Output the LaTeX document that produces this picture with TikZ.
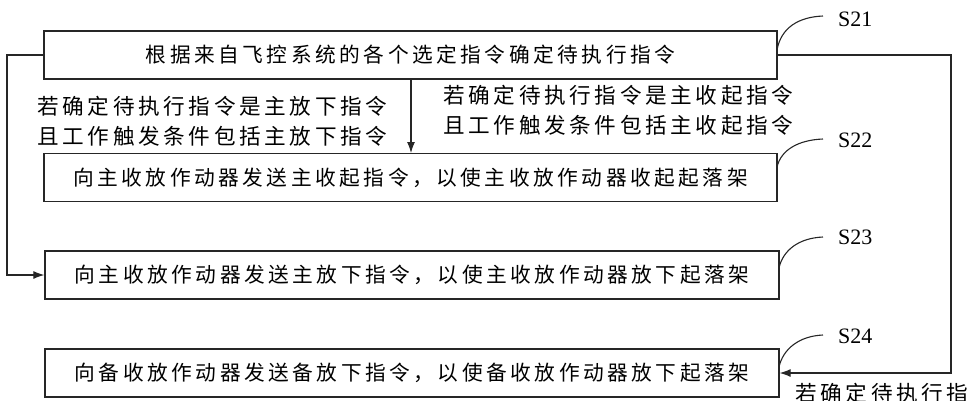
\documentclass[tikz,border=0pt]{standalone}
\usepackage{fontspec}
\newfontfamily\cjk[LetterSpace=17]{Noto Sans CJK SC}
\setmainfont{Liberation Serif}
\usetikzlibrary{arrows.meta}
\tikzset{
  stepbox/.style={draw=black!85, line width=1.3pt, minimum width=733pt, minimum height=48pt, inner sep=0pt, font=\cjk\fontsize{20.7pt}{24pt}\selectfont},
  cond/.style={align=left, inner sep=0pt, anchor=west, font=\cjk\fontsize{21.6pt}{30pt}\selectfont},
  conn/.style={draw=black!85, line width=1.1pt},
  arr/.style={conn, -{Latex[length=11pt,width=8pt]}},
  slab/.style={anchor=west, inner sep=0pt, font=\fontsize{22pt}{22pt}\selectfont},
}
\begin{document}
\begin{tikzpicture}[x=1pt,y=-1pt]
\useasboundingbox (0,0) rectangle (977,400);
\node[stepbox] (b1) at (410.5,55) {根据来自飞控系统的各个选定指令确定待执行指令};
\node[stepbox] (b2) at (410.5,177.5) {向主收放作动器发送主收起指令，以使主收放作动器收起起落架};
\node[stepbox, minimum width=734pt] (b3) at (412,275) {向主收放作动器发送主放下指令，以使主收放作动器放下起落架};
\node[stepbox, minimum width=734pt] (b4) at (412,373) {向备收放作动器发送备放下指令，以使备收放作动器放下起落架};

\node[cond] (c1) at (37,121) {若确定待执行指令是主放下指令\\且工作触发条件包括主放下指令};
\node[cond] (c2) at (443,110) {若确定待执行指令是主收起指令\\且工作触发条件包括主收起指令};
\node[cond] (c3) at (795,393) {若确定待执行指};

% down arrow
\coordinate (dtop) at (411,79);
\coordinate (dbot) at (411,153);
\draw[arr] (dtop) -- (dbot);

% left loop
\coordinate (lx) at (7,0);
\draw[arr] (b1.west) -| (lx |- b3.west) -- (b3.west);

% right loop
\coordinate (rx) at (951,0);
\draw[arr] (b1.east) -| (rx |- b4.east) -- (b4.east);

% step labels
\node[slab] (s21) at (838,19) {S21};
\node[slab] (s22) at (838,140) {S22};
\node[slab] (s23) at (838,237) {S23};
\node[slab] (s24) at (838,336) {S24};
\coordinate (k1) at (777,50);
\coordinate (k2) at (777,167);
\coordinate (k3) at (779,268);
\coordinate (k4) at (779,367);
\draw[conn] (k1) .. controls (781,28) and (798,17) .. (823,16);
\draw[conn] (k2) .. controls (781,150) and (798,140) .. (823,139);
\draw[conn] (k3) .. controls (783,250) and (799,238) .. (823,237);
\draw[conn] (k4) .. controls (783,349) and (799,336) .. (823,335);
\end{tikzpicture}
\end{document}
